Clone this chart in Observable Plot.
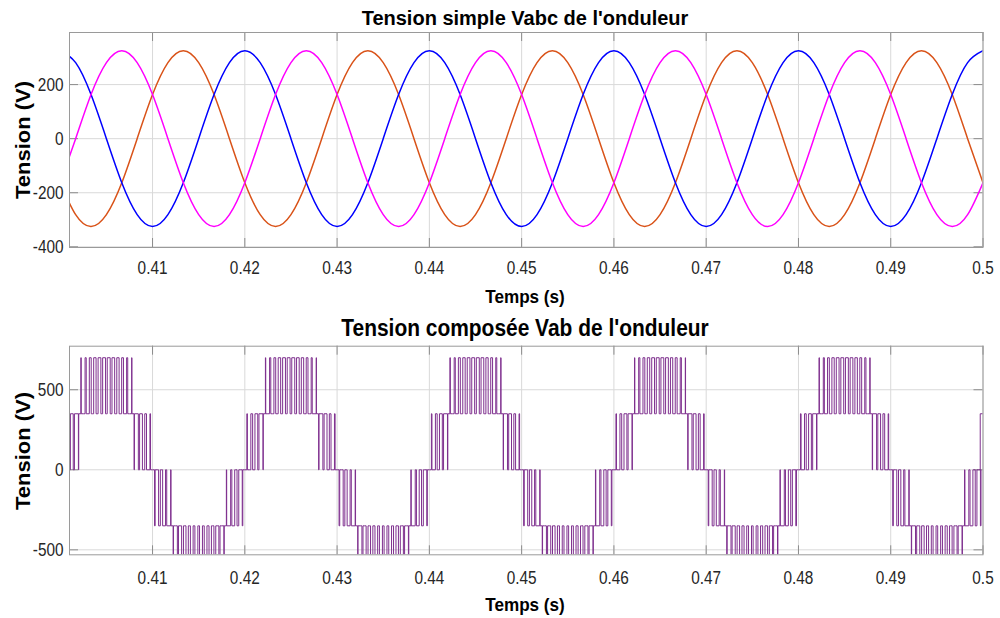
<!DOCTYPE html>
<html><head><meta charset="utf-8">
<script src="https://cdn.jsdelivr.net/npm/d3@7"></script>
<script src="https://cdn.jsdelivr.net/npm/@observablehq/plot@0.6"></script>
<style>
html,body{margin:0;padding:0;background:#fff}
body{width:1000px;height:618px;overflow:hidden;position:relative;font-family:"Liberation Sans",Arial,sans-serif;color:#000}
.abs{position:absolute;white-space:nowrap;line-height:1}
.t1{top:8px;left:525px;transform:translateX(-50%);font-size:20px;font-weight:bold}
.t2{top:317px;left:525px;transform:translateX(-50%) scaleX(0.91);font-size:23px;font-weight:bold}
.xl{left:525px;transform:translateX(-50%) scaleX(0.9);font-size:19px;font-weight:bold}
.yl{font-size:22px;font-weight:bold;transform:translate(-50%,-50%) rotate(-90deg) scaleY(0.88)}
</style></head><body>
<div id="p1" class="abs" style="left:0;top:0"></div>
<div id="p2" class="abs" style="left:0;top:310px"></div>
<div class="abs t1">Tension simple Vabc de l'onduleur</div>
<div class="abs t2">Tension composée Vab de l'onduleur</div>
<div class="abs xl" style="top:287px">Temps (s)</div>
<div class="abs xl" style="top:595px">Temps (s)</div>
<div class="abs yl" style="left:24px;top:140px">Tension (V)</div>
<div class="abs yl" style="left:24px;top:451px">Tension (V)</div>
<script>
// ---- shared axis data ----
const xTicks = [0.41, 0.42, 0.43, 0.44, 0.45, 0.46, 0.47, 0.48, 0.49, 0.5];
const xDomain = [0.401, 0.5];
const yTicksTop = [-400, -200, 0, 200];
const yTicksBottom = [-500, 0, 500];

// ---- top panel: phase voltages, samples every 1/12 of a 20 ms period starting at 0.400 s ----
const sineStart = 0.400;
const sineStep = 0.02 / 12;
const vaOrange = [-163,-281,-325,-281,-163,0,163,281,325,281,163,0,
  -163,-281,-325,-281,-163,0,163,281,325,281,163,0,
  -163,-281,-325,-281,-163,0,163,281,325,281,163,0,
  -163,-281,-325,-281,-163,0,163,281,325,281,163,0,
  -163,-281,-325,-281,-163,0,163,281,325,281,163,0,-163];
const vbBlue = [325,281,163,0,-163,-281,-325,-281,-163,0,163,281,
  325,281,163,0,-163,-281,-325,-281,-163,0,163,281,
  325,281,163,0,-163,-281,-325,-281,-163,0,163,281,
  325,281,163,0,-163,-281,-325,-281,-163,0,163,281,
  325,281,163,0,-163,-281,-325,-281,-163,0,163,281,325];
const vcMagenta = [-163,0,163,281,325,281,163,0,-163,-281,-325,-281,
  -163,0,163,281,325,281,163,0,-163,-281,-325,-281,
  -163,0,163,281,325,281,163,0,-163,-281,-325,-281,
  -163,0,163,281,325,281,163,0,-163,-281,-325,-281,
  -163,0,163,281,325,281,163,0,-163,-281,-325,-281,-163];
const phaseNames = ["Va", "Vb", "Vc"];
const phaseColors = ["#D95319", "#0000FF", "#FF00FF"];

// ---- bottom panel: line voltage Vab (PWM) ----
const vabStart = 0.400;      // first carrier period
const vabPeriod = 0.0005;    // pulse spacing
const segStart = [0.400,0.402,0.408, 0.410,0.412,0.418, 0.420,0.422,0.428, 0.430,0.432,0.438,
  0.440,0.442,0.448, 0.450,0.452,0.458, 0.460,0.462,0.468, 0.470,0.472,0.478,
  0.480,0.482,0.488, 0.490,0.492,0.498];
const segInner = [0,350,0, 0,-350,0, 0,350,0, 0,-350,0, 0,350,0, 0,-350,0, 0,350,0, 0,-350,0, 0,350,0, 0,-350,0];
const segOuter = [350,700,350, -350,-700,-350, 350,700,350, -350,-700,-350, 350,700,350,
  -350,-700,-350, 350,700,350, -350,-700,-350, 350,700,350, -350,-700,-350];
const vabDuty = [
  0.12,0.37,0.62,0.86, 0.08,0.25,0.41,0.52,0.60,0.63,0.64,0.58,0.50,0.39,0.24,0.06, 0.85,0.61,0.38,0.13,
  0.13,0.38,0.63,0.85, 0.06,0.24,0.40,0.51,0.59,0.64,0.63,0.59,0.52,0.40,0.25,0.07, 0.86,0.62,0.37,0.12,
  0.11,0.39,0.61,0.87, 0.07,0.26,0.39,0.53,0.61,0.62,0.65,0.57,0.51,0.38,0.23,0.05, 0.84,0.63,0.36,0.14,
  0.14,0.36,0.64,0.84, 0.05,0.23,0.41,0.50,0.58,0.65,0.62,0.60,0.53,0.41,0.26,0.08, 0.87,0.60,0.39,0.11,
  0.12,0.38,0.62,0.85, 0.09,0.24,0.42,0.52,0.59,0.63,0.64,0.59,0.49,0.40,0.22,0.06, 0.86,0.61,0.38,0.12,
  0.13,0.37,0.61,0.86, 0.07,0.25,0.38,0.51,0.60,0.64,0.63,0.58,0.52,0.39,0.24,0.07, 0.85,0.62,0.37,0.13,
  0.11,0.38,0.63,0.85, 0.06,0.26,0.40,0.53,0.61,0.63,0.62,0.60,0.50,0.41,0.25,0.05, 0.84,0.61,0.39,0.12,
  0.12,0.39,0.62,0.87, 0.08,0.24,0.41,0.52,0.58,0.64,0.65,0.57,0.51,0.38,0.23,0.08, 0.86,0.63,0.36,0.14,
  0.14,0.37,0.60,0.84, 0.07,0.23,0.39,0.50,0.60,0.62,0.63,0.59,0.53,0.40,0.26,0.06, 0.87,0.60,0.38,0.11,
  0.12,0.38,0.62,0.86, 0.06,0.25,0.40,0.52,0.59,0.64,0.64,0.58,0.50,0.39,0.24,0.07, 0.85,0.62,0.37,0.13
];
const vabEnd = [0.4997, 350];   // last rising edge visible at the right border
const vabColor = "#7E2F8E";

// ---- build tables ----
const sineRows = [];
[vaOrange, vbBlue, vcMagenta].forEach((arr, s) => arr.forEach((v, k) =>
  sineRows.push({t: sineStart + k * sineStep, v, phase: phaseNames[s]})));

const vabRows = [];
vabDuty.forEach((d, k) => {
  const t0 = vabStart + k * vabPeriod, tc = t0 + vabPeriod / 2;
  let i = 0; while (i + 1 < segStart.length && segStart[i + 1] <= tc) i++;
  const w = d * vabPeriod;
  vabRows.push({t: t0, v: segInner[i]}, {t: tc - w / 2, v: segOuter[i]}, {t: tc + w / 2, v: segInner[i]});
});
vabRows.push({t: vabEnd[0], v: vabEnd[1]}, {t: 0.5, v: vabEnd[1]});

const fmtX = d => String(+d.toFixed(2));
const fmtY = d => String(d);
const FONT = '"Liberation Sans",Arial,sans-serif';

function frameMarks(plotW, plotH, yTicks) {
  return [
    Plot.gridX(xTicks, {stroke: "#d9d9d9", strokeOpacity: 1}),
    Plot.gridY(yTicks, {stroke: "#d9d9d9", strokeOpacity: 1}),
    Plot.ruleX(xTicks, {stroke: "#8c8c8c", insetTop: plotH - 9}),
    Plot.ruleX(xTicks, {stroke: "#8c8c8c", insetBottom: plotH - 9}),
    Plot.ruleY(yTicks, {stroke: "#8c8c8c", insetRight: plotW - 9}),
    Plot.ruleY(yTicks, {stroke: "#8c8c8c", insetLeft: plotW - 9}),
  ];
}

// narrow the tick labels horizontally around their anchor point
function narrowText(svg, k) {
  svg.querySelectorAll("text").forEach(t => {
    const x = +t.getAttribute("x") || 0, y = +t.getAttribute("y") || 0;
    const tr = t.getAttribute("transform") || "";
    t.setAttribute("transform", `${tr} translate(${x},${y}) scale(${k},1) translate(${-x},${-y})`);
  });
}

// top
{
  const mL = 69, mR = 17.5, mT = 32, mB = 23, H = 270;
  const plotW = 1000 - mL - mR, plotH = H - mT - mB;
  const p = Plot.plot({
    width: 1000, height: H, marginLeft: mL, marginRight: mR, marginTop: mT, marginBottom: mB,
    style: {fontFamily: FONT, fontSize: "18.5px", color: "#262626", background: "white", overflow: "visible"},
    x: {domain: xDomain, label: null},
    y: {domain: [-402.5, 392.6], label: null},
    color: {domain: phaseNames, range: phaseColors},
    marks: [
      ...frameMarks(plotW, plotH, yTicksTop),
      Plot.line(sineRows, {x: "t", y: "v", z: "phase", stroke: "phase", strokeWidth: 1.5, curve: "natural", clip: true}),
      Plot.frame({stroke: "#9a9a9a"}),
      Plot.axisX(xTicks, {tickSize: 0, tickPadding: 13, tickFormat: fmtX, label: null, fill: "#262626"}),
      Plot.axisY(yTicksTop, {tickSize: 0, tickPadding: 6, tickFormat: fmtY, label: null, fill: "#262626"})
    ]
  });
  narrowText(p, 0.83);
  document.getElementById("p1").append(p);
}
// bottom
{
  const mL = 69, mR = 17.5, mT = 35.7, mB = 23.7, H = 268;
  const plotW = 1000 - mL - mR, plotH = H - mT - mB;
  const p = Plot.plot({
    width: 1000, height: H, marginLeft: mL, marginRight: mR, marginTop: mT, marginBottom: mB,
    style: {fontFamily: FONT, fontSize: "18.5px", color: "#262626", background: "white", overflow: "visible"},
    x: {domain: xDomain, label: null},
    y: {domain: [-531, 772], label: null},
    marks: [
      ...frameMarks(plotW, plotH, yTicksBottom),
      Plot.line(vabRows, {x: "t", y: "v", stroke: vabColor, strokeWidth: 1, curve: "step-after", clip: true}),
      Plot.frame({stroke: "#9a9a9a"}),
      Plot.axisX(xTicks, {tickSize: 0, tickPadding: 16, tickFormat: fmtX, label: null, fill: "#262626"}),
      Plot.axisY(yTicksBottom, {tickSize: 0, tickPadding: 6, tickFormat: fmtY, label: null, fill: "#262626"})
    ]
  });
  narrowText(p, 0.83);
  document.getElementById("p2").append(p);
}
</script>
</body></html>
